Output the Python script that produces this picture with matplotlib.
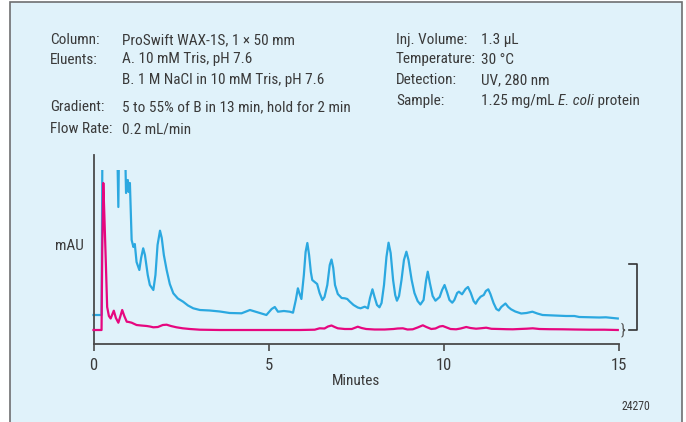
import matplotlib
matplotlib.use("Agg")
import matplotlib.pyplot as plt
from matplotlib import font_manager
from matplotlib.patches import Rectangle
from matplotlib.text import Annotation

W, H = 686, 422

# E. coli protein on ProSwift WAX-1S: sample trace and blank, in minutes / mAU
minutes_sample = [
    0.00, 0.23, 0.26, 0.66, 0.71, 0.74, 0.88, 0.93, 0.98, 1.01, 1.04, 1.09,
    1.14, 1.18, 1.23, 1.31, 1.36, 1.42, 1.47, 1.55, 1.61, 1.71, 1.77, 1.83,
    1.90, 1.95, 2.01, 2.09, 2.18, 2.28, 2.41, 2.56, 2.70, 2.85, 3.04, 3.32,
    3.61, 3.89, 4.23, 4.47, 4.66, 4.94, 5.09, 5.18, 5.27, 5.44, 5.61, 5.70,
    5.78, 5.84, 5.89, 5.94, 6.01, 6.06, 6.11, 6.16, 6.21, 6.25, 6.32, 6.39,
    6.46, 6.54, 6.60, 6.68, 6.75, 6.80, 6.85, 6.90, 6.98, 7.09, 7.18, 7.25,
    7.32, 7.43, 7.55, 7.63, 7.75, 7.84, 7.90, 7.97, 8.03, 8.10, 8.17, 8.23,
    8.30, 8.37, 8.43, 8.49, 8.56, 8.62, 8.67, 8.73, 8.80, 8.87, 8.94, 9.00,
    9.09, 9.17, 9.26, 9.34, 9.43, 9.50, 9.55, 9.61, 9.69, 9.77, 9.89, 9.96,
    10.03, 10.10, 10.17, 10.25, 10.31, 10.39, 10.44, 10.53, 10.63, 10.70,
    10.78, 10.86, 10.92, 10.98, 11.06, 11.15, 11.21, 11.28, 11.34, 11.43,
    11.51, 11.58, 11.65, 11.77, 11.85, 11.93, 12.05, 12.22, 12.37, 12.54,
    12.68, 12.83, 13.17, 13.50, 13.74, 13.88, 14.17, 14.45, 14.64, 14.79,
    14.98,
]
mau_sample = [
    15, 15, 220, 220, 123, 220, 220, 137, 150, 138, 147, 90,
    83, 86, 68, 60, 72, 81.7, 75, 55, 45, 40, 55, 85,
    99.3, 92, 75, 60, 46, 36.7, 31.5, 28.3, 24.5, 21.7, 20, 19.5,
    18.5, 17, 16.7, 20, 18, 15, 21, 23, 18.3, 19, 18.3, 17.3,
    30, 41.7, 36, 31, 55, 78, 87, 75, 58, 50, 48, 46,
    37, 30, 33, 45, 65, 70.5, 62, 45, 36, 32, 31.7, 31,
    28.5, 25, 22.5, 21.7, 23.3, 21.7, 32, 40.7, 33, 25, 22.7, 27,
    45, 73, 87.3, 77, 50, 35, 29.3, 34, 50, 70, 78.3, 70,
    50, 37, 29, 25.5, 30, 49, 58.3, 47, 34, 29.3, 33, 40,
    45, 38, 30, 27.3, 30, 37, 38.3, 35.7, 41, 43,
    37, 29, 26.3, 30, 33.3, 35, 39, 40.7, 36, 27,
    21, 19.5, 23, 26.5, 23, 20.7, 18.5, 16.5, 17, 18.3,
    16.5, 15, 14.5, 14, 14, 13, 12.7, 12.5, 12.7, 12.2,
    11.5,
]

minutes_blank = [
    0.00, 0.23, 0.25, 0.28, 0.31, 0.35, 0.39, 0.44, 0.49, 0.53, 0.58, 0.64,
    0.71, 0.77, 0.82, 0.88, 0.95, 1.01, 1.09, 1.23, 1.36, 1.52, 1.61, 1.71,
    1.84, 1.98, 2.09, 2.21, 2.37, 2.55, 2.75, 3.04, 3.61, 4.75, 5.89, 6.32,
    6.46, 6.60, 6.70, 6.80, 6.89, 6.98, 7.18, 7.38, 7.55, 7.66, 7.79, 8.03,
    8.32, 8.57, 8.69, 8.84, 8.97, 9.12, 9.26, 9.41, 9.51, 9.65, 9.77, 9.89,
    9.98, 10.09, 10.20, 10.36, 10.49, 10.65, 10.77, 10.93, 11.06, 11.22,
    11.37, 11.60, 11.80, 11.98, 12.17, 12.37, 12.55, 12.74, 13.02, 13.40,
    13.74, 14.17, 14.59, 14.98,
]
mau_blank = [
    0, 0, 80, 147, 115, 70, 23, 14, 11.5, 15, 19.3, 12,
    7.3, 14, 20, 14, 8.3, 8, 7.3, 5, 4.5, 4, 3.5, 2.7,
    3, 5, 5.3, 4, 2.7, 1.7, 1, 0.3, 0, 0, 0, 0.3,
    1.7, 1.5, 3.5, 4.5, 3, 1.7, 1, 1, 3.3, 2, 1, 0.5,
    0.5, 1, 1.5, 1.7, 0.5, 0.7, 2.5, 4.7, 3, 1, 1.5, 3.5,
    4, 2.5, 1, 0.7, 1.5, 3, 2, 1.3, 1.7, 2.3,
    1.2, 1, 0.8, 0.7, 1, 1.3, 1.7, 1, 0.8, 0.7,
    0.5, 0.3, 0.3, 0,
]

x_ticks = [0, 5, 10, 15]
scale_bar = (0, 66)      # mAU span marked by the bracket
detector_limit = 160     # trace is off scale above this

left_labels = ["Column:", "Eluents:", "", "Gradient:", "Flow Rate:"]
left_values = [
    "ProSwift WAX-1S, 1 \u00d7 50 mm",
    "A. 10 mM Tris, pH 7.6",
    "B. 1 M NaCl in 10 mM Tris, pH 7.6",
    "5 to 55% of B in 13 min, hold for 2 min",
    "0.2 mL/min",
]
right_labels = ["Inj. Volume:", "Temperature:", "Detection:", "Sample:"]
right_values = ["1.3 \u00b5L", "30 \u00b0C", "UV, 280 nm", None]
sample_text = ("1.25 mg/mL ", "E. coli", " protein")


def pick_font():
    entries = font_manager.fontManager.ttflist
    names = {f.name for f in entries}
    for name in ("Liberation Sans Narrow", "Roboto Condensed", "Open Sans Condensed"):
        if name in names:
            return name, "normal"
    for f in entries:
        if f.name == "DejaVu Sans" and f.stretch == "condensed":
            return "DejaVu Sans", "condensed"
    return "Liberation Sans", "normal"


family, stretch = pick_font()
plt.rcParams["font.family"] = [family, "DejaVu Sans"]
plt.rcParams["font.stretch"] = stretch

TEXT = "#3a3a3a"
AXIS = "#4a4a4a"
BG = "#e0f2fa"
FS = 11

fig = plt.figure(figsize=(W / 100, H / 100), dpi=100)
fig.patch.set_facecolor("white")

# tinted panel with a grey border, open at the bottom
fig.add_artist(Rectangle((10 / W, -0.05), 672 / W, (H - 2) / H + 0.05,
                         transform=fig.transFigure, facecolor=BG,
                         edgecolor="#6e6f71", linewidth=1.2, zorder=0))


def ftext(x, y, s, **kw):
    kw.setdefault("color", TEXT)
    kw.setdefault("fontsize", FS)
    kw.setdefault("va", "center")
    return fig.text(x / W, 1 - y / H, s, **kw)


left_rows = [40, 59.5, 80, 107, 129]
for lab, val, y in zip(left_labels, left_values, left_rows):
    if lab:
        ftext(50, y, lab)
    ftext(122, y, val)

right_rows = [40, 59.5, 80, 101]
for lab, val, y in zip(right_labels, right_values, right_rows):
    ftext(396, y, lab)
    if val is not None:
        ftext(481, y, val)

# sample line with the organism in italics
prev = ftext(481, right_rows[-1], sample_text[0])
for part, style in zip(sample_text[1:], ("italic", "normal")):
    prev = fig.add_artist(Annotation(
        part, xy=(1, 0), xycoords=prev, va="bottom", ha="left",
        color=TEXT, fontsize=FS, style=style))

ax = fig.add_axes([93.5 / W, (H - 344) / H, 525 / W, (344 - 155) / H])
ax.set_facecolor("none")
ax.set_xlim(0, 15)
ax.set_ylim(-14, 175)

window = Rectangle((-1, -20), 17, detector_limit + 20, transform=ax.transData)
for xs, ys, color, z in ((minutes_sample, mau_sample, "#2ba8e0", 2),
                         (minutes_blank, mau_blank, "#e6077f", 3)):
    line, = ax.plot(xs, ys, color=color, lw=1.6, solid_joinstyle="round", zorder=z)
    line.set_clip_path(window)

for side in ("top", "right"):
    ax.spines[side].set_visible(False)
for side in ("left", "bottom"):
    ax.spines[side].set_color(AXIS)
    ax.spines[side].set_linewidth(1.3)
ax.set_yticks([])
ax.set_xticks(x_ticks)
ax.tick_params(axis="x", direction="out", length=5, width=1.2, color=AXIS,
               labelsize=12, labelcolor=TEXT, pad=5)

# scale bracket and brace at the end of the traces
bx0, bx1 = 15.31, 15.53
ax.plot([bx0, bx1, bx1, bx0], [scale_bar[1], scale_bar[1], scale_bar[0], scale_bar[0]],
        color="#333333", lw=1.2, clip_on=False)
ax.text(15.06, scale_bar[0], "}", color="#555555", fontsize=11, va="center",
        ha="left", clip_on=False)

ftext(55, 246, "mAU", fontsize=11)
ftext(356, 381, "Minutes", ha="center", fontsize=11)
ftext(636, 406, "24270", ha="center", fontsize=8.5)

fig.savefig("out.png", dpi=100)
